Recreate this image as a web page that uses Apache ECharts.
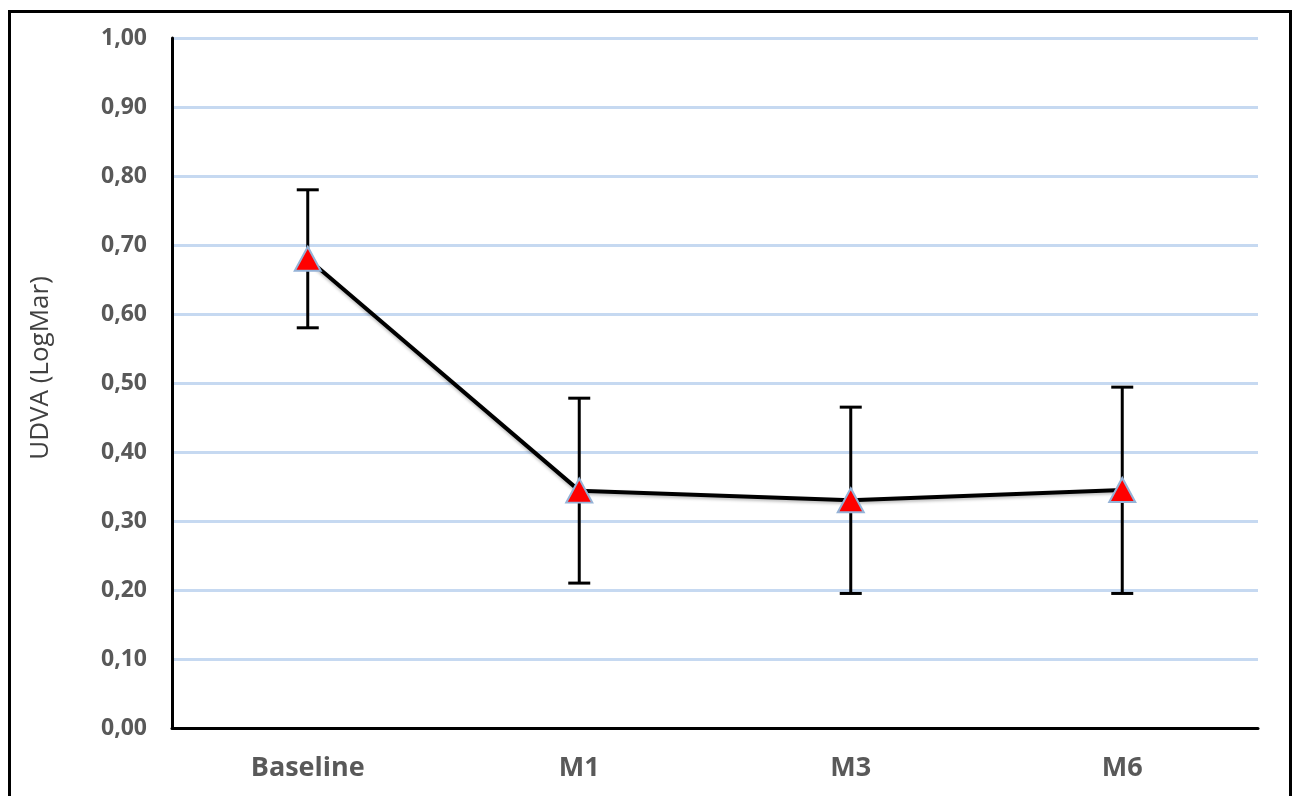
<!DOCTYPE html>
<html>
<head>
<meta charset="utf-8">
<script src="https://cdn.jsdelivr.net/npm/echarts@6/dist/echarts.min.js"></script>
<style>
  html, body { margin: 0; padding: 0; background: #fff; }
  #chart { width: 1297px; height: 796px; }
</style>
</head>
<body>
<div id="chart"></div>
<script>
// Visits and mean UDVA (LogMar) with ± spread
const visits = ['Baseline', 'M1', 'M3', 'M6'];
const udvaMean = [0.68, 0.344, 0.33, 0.345];
const udvaLow = [0.58, 0.21, 0.195, 0.195];
const udvaHigh = [0.78, 0.478, 0.465, 0.494];
const yTicks = [0, 0.1, 0.2, 0.3, 0.4, 0.5, 0.6, 0.7, 0.8, 0.9, 1.0];

const errorData = visits.map((v, i) => [i, udvaLow[i], udvaHigh[i]]);

const chart = echarts.init(document.getElementById('chart'), null, { renderer: 'canvas' });

const labelFont = '"Open Sans", "Liberation Sans", sans-serif';

chart.setOption({
  animation: false,
  backgroundColor: '#ffffff',
  graphic: [
    {
      type: 'rect',
      silent: true,
      shape: { x: 9.5, y: 11.5, width: 1281, height: 820 },
      style: { fill: 'none', stroke: '#000', lineWidth: 3 },
      z: 100
    },
    {
      type: 'text',
      silent: true,
      x: 41,
      y: 368,
      rotation: Math.PI / 2,
      style: {
        text: 'UDVA (LogMar)',
        fill: '#404040',
        font: '26px ' + labelFont,
        align: 'center',
        verticalAlign: 'middle'
      }
    }
  ],
  grid: { left: 172, right: 39, top: 38, bottom: 68, containLabel: false },
  xAxis: {
    type: 'category',
    data: visits,
    boundaryGap: true,
    axisLine: { show: true, onZero: false, lineStyle: { color: '#000', width: 3 } },
    axisTick: { show: false },
    axisLabel: {
      margin: 27,
      color: '#595959',
      fontFamily: labelFont,
      fontWeight: 'bold',
      fontSize: 27
    },
    splitLine: { show: false }
  },
  yAxis: {
    type: 'value',
    min: yTicks[0],
    max: yTicks[yTicks.length - 1],
    interval: 0.1,
    axisLine: { show: true, lineStyle: { color: '#000', width: 3 } },
    axisTick: { show: false },
    axisLabel: {
      margin: 25,
      color: '#595959',
      fontFamily: labelFont,
      fontWeight: 'bold',
      fontSize: 23,
      formatter: v => v.toFixed(2).replace('.', ',')
    },
    splitLine: { show: true, lineStyle: { color: '#c6d9f1', width: 3 } }
  },
  series: [
    {
      type: 'custom',
      name: 'spread',
      z: 2,
      data: errorData,
      renderItem: function (params, api) {
        const x = api.value(0);
        const lo = api.coord([x, api.value(1)]);
        const hi = api.coord([x, api.value(2)]);
        const half = 11;
        const style = { stroke: '#000', lineWidth: 3 };
        return {
          type: 'group',
          children: [
            { type: 'line', shape: { x1: lo[0], y1: lo[1], x2: hi[0], y2: hi[1] }, style },
            { type: 'line', shape: { x1: hi[0] - half, y1: hi[1], x2: hi[0] + half, y2: hi[1] }, style },
            { type: 'line', shape: { x1: lo[0] - half, y1: lo[1], x2: lo[0] + half, y2: lo[1] }, style }
          ]
        };
      }
    },
    {
      type: 'line',
      name: 'UDVA',
      z: 3,
      data: udvaMean,
      smooth: false,
      symbol: 'triangle',
      symbolSize: [26, 24],
      lineStyle: {
        color: '#000',
        width: 4,
        shadowColor: 'rgba(0,0,0,0.25)',
        shadowBlur: 3,
        shadowOffsetY: 2
      },
      itemStyle: {
        color: '#ff0000',
        borderColor: '#95b3d7',
        borderWidth: 2
      }
    }
  ]
});
</script>
</body>
</html>
